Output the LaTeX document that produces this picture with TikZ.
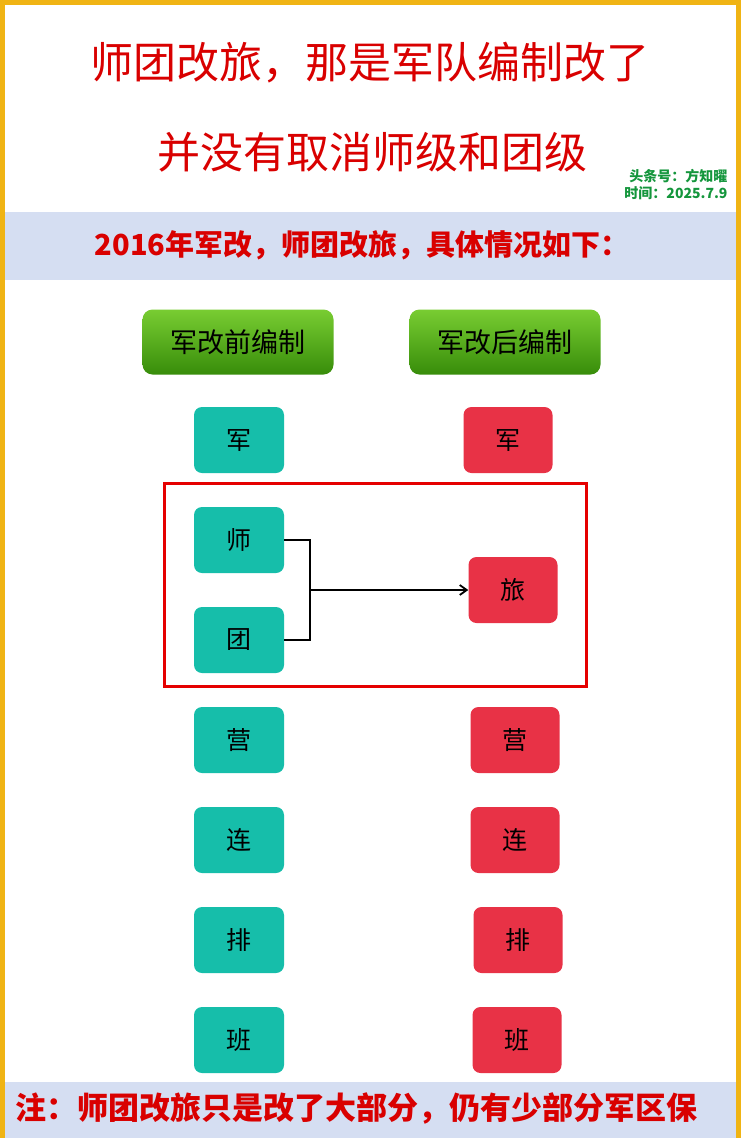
\documentclass[tikz,border=0pt]{standalone}
\usepackage{fontspec}
\usetikzlibrary{arrows.meta}
\newfontfamily\cjk{Noto Sans CJK SC}
\begin{document}
\begin{tikzpicture}[x=1pt,y=-1pt,
  oldbox/.style={draw=none,rounded corners=8pt,minimum width=90pt,minimum height=66pt,font=\cjk\fontsize{25}{28}\selectfont},
  newbox/.style={draw=none,rounded corners=8pt,minimum width=89pt,minimum height=66pt,font=\cjk\fontsize{25}{28}\selectfont},
  gbtn/.style={top color={rgb,255:red,120;green,205;blue,50},bottom color={rgb,255:red,55;green,140;blue,10},rounded corners=10pt,minimum width=191pt,minimum height=65pt,font=\cjk\fontsize{27}{30}\selectfont},
  titlet/.style={text=red!85!black,font=\cjk\fontsize{43}{48}\selectfont}]
\definecolor{band}{RGB}{213,222,242}
\definecolor{tealc}{RGB}{22,190,170}
\definecolor{redc}{RGB}{232,50,70}
\useasboundingbox (0,0) rectangle (741,1138);
\fill[white] (0,0) rectangle (741,1138);
\draw[line width=5pt,draw={rgb,255:red,240;green,180;blue,20}] (2.5,2.5) rectangle (738.5,1140);
\node[titlet] (t1) at (370,63) {师团改旅，那是军队编制改了};
\node[titlet] (t2) at (372,152) {并没有取消师级和团级};
\node[text={rgb,255:red,20;green,150;blue,60},font=\cjk\bfseries\fontsize{14}{17}\selectfont,align=right,anchor=east] (src) at (731,185) {头条号：方知曜\\时间：2025.7.9};
\fill[band] (5,212) rectangle (736,280);
\node[text=red!85!black,font=\cjk\bfseries\fontsize{29}{32}\selectfont] (sub) at (362,245) {2016年军改，师团改旅，具体情况如下：};
\node[gbtn] (gl) at (238,342) {军改前编制};
\node[gbtn] (gr) at (505,342) {军改后编制};
\node[oldbox,fill=tealc] (o1) at (239,440) {军};
\node[oldbox,fill=tealc] (o2) at (239,540) {师};
\node[oldbox,fill=tealc] (o3) at (239,640) {团};
\node[oldbox,fill=tealc] (o4) at (239,740) {营};
\node[oldbox,fill=tealc] (o5) at (239,840) {连};
\node[oldbox,fill=tealc] (o6) at (239,940) {排};
\node[oldbox,fill=tealc] (o7) at (239,1040) {班};
\node[newbox,fill=redc] (n1) at (508,440) {军};
\node[newbox,fill=redc] (n2) at (513,590) {旅};
\node[newbox,fill=redc] (n4) at (515,740) {营};
\node[newbox,fill=redc] (n5) at (515,840) {连};
\node[newbox,fill=redc] (n6) at (518,940) {排};
\node[newbox,fill=redc] (n7) at (517,1040) {班};
\draw[red!90!black,line width=3pt] (164,483) rectangle (586,686);
\coordinate (j) at (310,590);
\draw[line width=1.8pt] (o2.east) -| (j) |- (o3.east);
\draw[line width=1.8pt,-{Straight Barb[length=7pt,width=10pt]}] (j) -- (n2.west);
\fill[band] (5,1082) rectangle (736,1138);
\begin{scope}
\clip (5,1082) rectangle (736,1138);
\node[text=red!85!black,font=\cjk\bfseries\fontsize{31}{36}\selectfont,anchor=west] (note) at (12,1108) {注：师团改旅只是改了大部分，仍有少部分军区保};
\end{scope}
\end{tikzpicture}
\end{document}
